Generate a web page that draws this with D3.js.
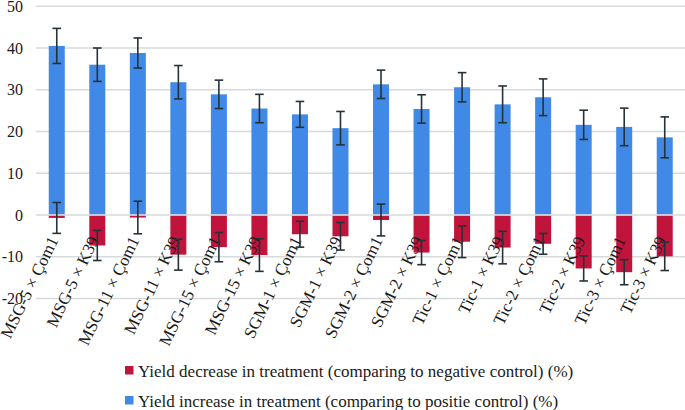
<!DOCTYPE html>
<html>
<head>
<meta charset="utf-8">
<script src="https://cdn.jsdelivr.net/npm/d3@7/dist/d3.min.js"></script>
<style>
  html, body { margin: 0; padding: 0; background: #fff; }
  svg { display: block; }
</style>
</head>
<body>
<svg id="chart" width="685" height="410" font-family="'Liberation Serif', 'Times New Roman', serif"></svg>
<script>
const categories = [
  "MSG-5 × Çom1", "MSG-5 × K39", "MSG-11 × Çom1", "MSG-11 × K39",
  "MSG-15 × Çom1", "MSG-15 × K39", "SGM-1 × Çom1", "SGM-1 × K39",
  "SGM-2 × Çom1", "SGM-2 × K39", "Tic-1 × Çom1", "Tic-1 × K39",
  "Tic-2 × Çom1", "Tic-2 × K39", "Tic-3 × Çom1", "Tic-3 × K39"
];
const increase    = [40.5, 36.0, 38.8, 31.8, 28.9, 25.5, 24.1, 20.8, 31.3, 25.4, 30.6, 26.5, 28.2, 21.6, 21.1, 18.6];
const increaseErr = [4.2, 4.0, 3.6, 4.0, 3.4, 3.4, 3.1, 4.0, 3.4, 3.4, 3.5, 4.4, 4.4, 3.5, 4.5, 4.9];
const decrease    = [-0.7, -7.3, -0.6, -9.5, -7.7, -9.6, -4.6, -5.1, -1.2, -9.0, -6.4, -7.8, -6.9, -12.8, -13.7, -9.9];
const decreaseErr = [3.7, 3.6, 3.9, 3.7, 3.5, 3.9, 3.1, 3.3, 3.8, 2.9, 3.8, 3.9, 2.5, 3.0, 3.0, 3.4];
const yTicks = [-20, -10, 0, 10, 20, 30, 40, 50];
const legendLabels = [
  "Yield decrease in treatment (comparing to negative control) (%)",
  "Yield increase in treatment (comparing to positie control) (%)"
];
const colors = { decrease: "#c0143c", increase: "#4189e6" };

const svg = d3.select("#chart");
const x = d3.scaleBand().domain(categories).range([36.5, 685]).padding(0);
const y = d3.scaleLinear().domain([-20, 50]).range([298.5, 6.25]);
const barW = x.bandwidth() * 0.395;
const cx = c => x(c) + x.bandwidth() / 2;
const serif = "'Liberation Serif', 'Times New Roman', serif";

// gridlines
svg.append("g").selectAll("line").data(yTicks).join("line")
  .attr("x1", 36).attr("x2", 685)
  .attr("y1", d => y(d)).attr("y2", d => y(d))
  .attr("stroke", "#d6dadb").attr("stroke-width", 1.6);

// y tick labels
svg.append("g").selectAll("text").data(yTicks).join("text")
  .attr("x", 23).attr("y", d => y(d))
  .attr("dy", "0.35em")
  .attr("text-anchor", "end")
  .attr("font-family", serif)
  .attr("font-size", 16)
  .attr("fill", "#1a1a1a")
  .text(d => d);

const incData = categories.map((c, i) => ({ c, v: increase[i], e: increaseErr[i] }));
const decData = categories.map((c, i) => ({ c, v: decrease[i], e: decreaseErr[i] }));

// bars
svg.append("g").selectAll("rect").data(incData).join("rect")
  .attr("x", d => cx(d.c) - barW / 2).attr("width", barW)
  .attr("y", d => y(d.v)).attr("height", d => y(0) - y(d.v) - 0.8)
  .attr("fill", colors.increase);
svg.append("g").selectAll("rect").data(decData).join("rect")
  .attr("x", d => cx(d.c) - barW / 2).attr("width", barW)
  .attr("y", y(0) + 0.8).attr("height", d => y(d.v) - y(0) - 0.8)
  .attr("fill", colors.decrease);

// x labels
svg.append("g").selectAll("text").data(categories).join("text")
  .attr("transform", d => `translate(${cx(d) + 2},240) rotate(-64)`)
  .attr("text-anchor", "end")
  .attr("font-family", serif)
  .attr("font-size", 17)
  .attr("fill", "#1a1a1a")
  .text(d => d);

// error bars
function errBars(data) {
  const g = svg.append("g").attr("stroke", "#263238").attr("stroke-width", 1.6).attr("fill", "none");
  const cap = 4.3;
  data.forEach(d => {
    const xc = cx(d.c);
    g.append("line").attr("x1", xc).attr("x2", xc).attr("y1", y(d.v + d.e)).attr("y2", y(d.v - d.e));
    g.append("line").attr("x1", xc - cap).attr("x2", xc + cap).attr("y1", y(d.v + d.e)).attr("y2", y(d.v + d.e));
    g.append("line").attr("x1", xc - cap).attr("x2", xc + cap).attr("y1", y(d.v - d.e)).attr("y2", y(d.v - d.e));
  });
}
errBars(decData);
errBars(incData);

// legend
const legend = svg.append("g");
const legItems = [
  { label: legendLabels[0], color: colors.decrease },
  { label: legendLabels[1], color: colors.increase }
];
legItems.forEach((d, i) => {
  const by = 376.5 + i * 30;
  legend.append("rect").attr("x", 125).attr("y", by - 10.5).attr("width", 8.5).attr("height", 8.5).attr("fill", d.color);
  legend.append("text").attr("x", 138).attr("y", by)
    .attr("font-family", serif).attr("font-size", 17).attr("fill", "#1a1a1a")
    .text(d.label);
});
</script>
</body>
</html>
